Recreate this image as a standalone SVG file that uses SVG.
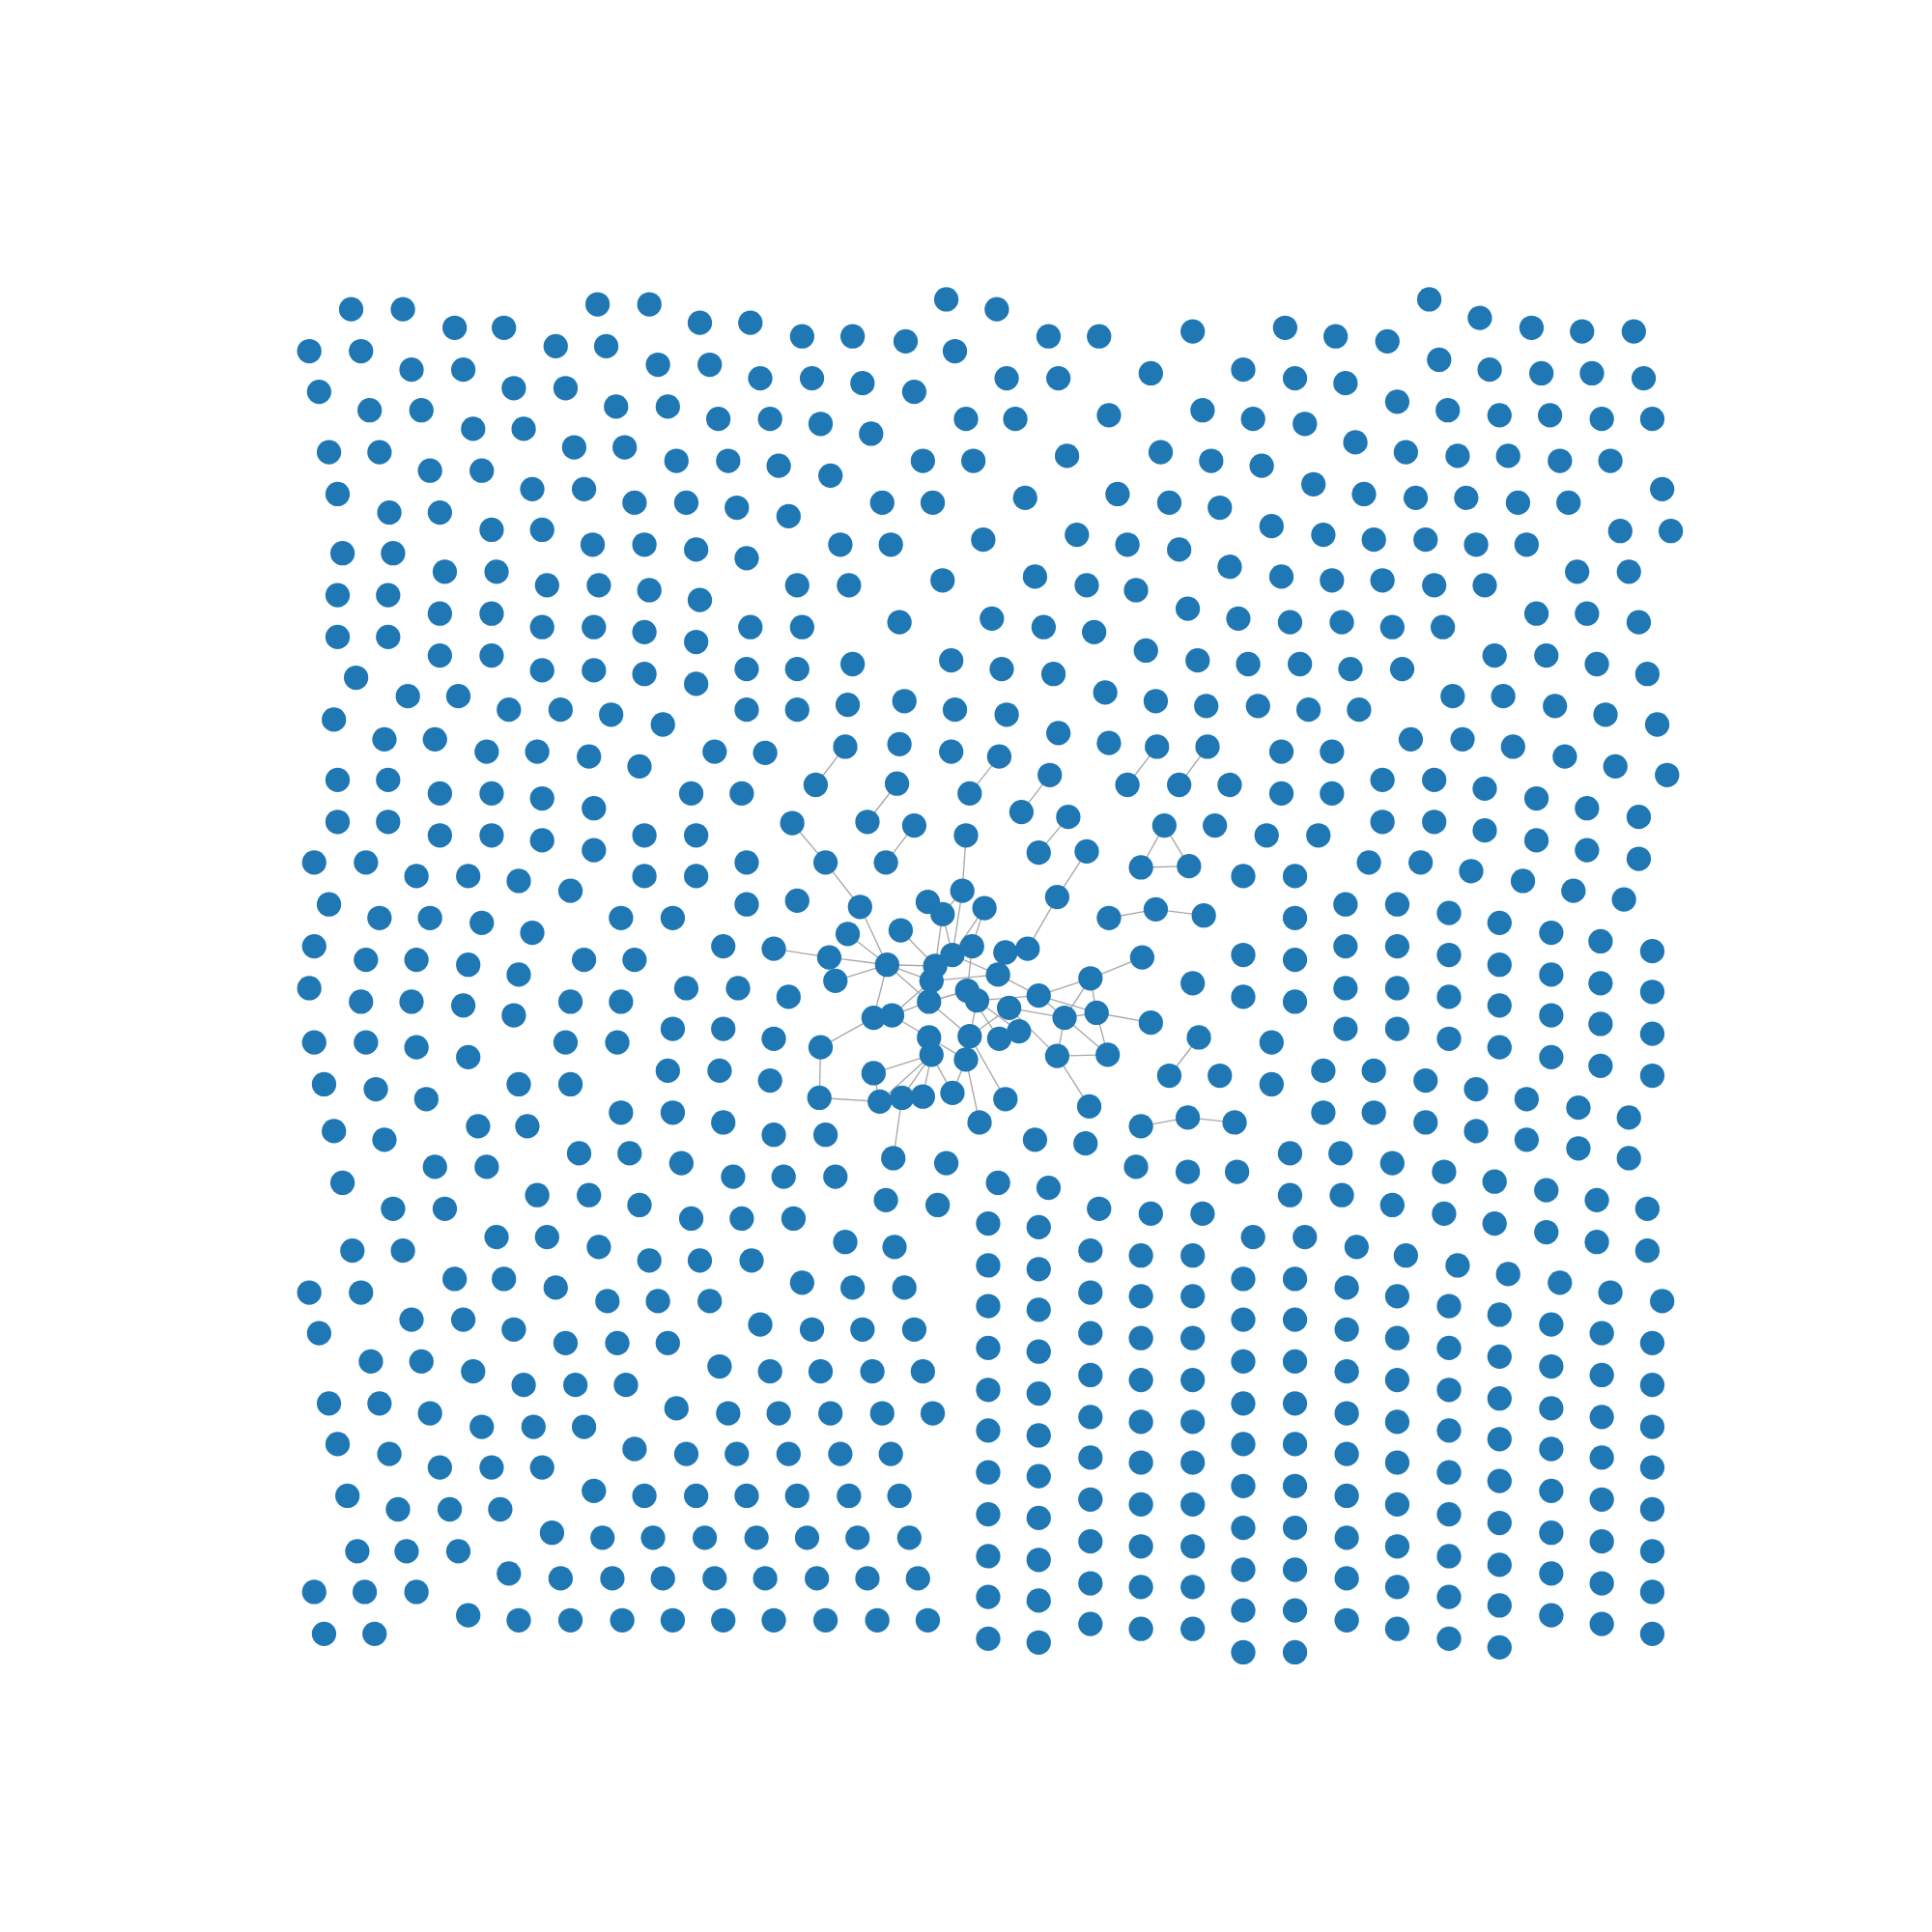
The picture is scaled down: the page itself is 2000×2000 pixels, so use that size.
<svg xmlns="http://www.w3.org/2000/svg" width="2000" height="2000" viewBox="0 0 2000 2000">
<style>
.e line{stroke:#a8a8a8;stroke-width:1.05;fill:none}
.n circle{fill:#1f77b4}
</style>
<rect width="2000" height="2000" fill="#ffffff"/>
<g transform="scale(1.27551)">
<g id="edges" class="e">
<line x1="686" y1="606" x2="662" y2="637"/>
<line x1="728" y1="636" x2="704" y2="667"/>
<line x1="643" y1="668" x2="670" y2="700"/>
<line x1="670" y1="700" x2="698" y2="736"/>
<line x1="698" y1="736" x2="720" y2="783"/>
<line x1="742" y1="670" x2="719" y2="700"/>
<line x1="811" y1="614" x2="787" y2="644"/>
<line x1="784" y1="678" x2="781" y2="723"/>
<line x1="852" y1="629" x2="829" y2="659"/>
<line x1="867" y1="663" x2="843" y2="692"/>
<line x1="882" y1="691" x2="858" y2="728"/>
<line x1="858" y1="728" x2="834" y2="770"/>
<line x1="939" y1="606" x2="915" y2="637"/>
<line x1="980" y1="606" x2="957" y2="637"/>
<line x1="945" y1="670" x2="926" y2="704"/>
<line x1="945" y1="670" x2="965" y2="703"/>
<line x1="926" y1="704" x2="965" y2="703"/>
<line x1="900" y1="745" x2="938" y2="738"/>
<line x1="938" y1="738" x2="977" y2="743"/>
<line x1="927" y1="777" x2="885" y2="794"/>
<line x1="973" y1="842" x2="949" y2="873"/>
<line x1="926" y1="914" x2="964" y2="907"/>
<line x1="964" y1="907" x2="1002" y2="911"/>
<line x1="628" y1="770" x2="673" y2="777"/>
<line x1="673" y1="777" x2="720" y2="783"/>
<line x1="688" y1="758" x2="720" y2="783"/>
<line x1="678" y1="796" x2="720" y2="783"/>
<line x1="720" y1="783" x2="759" y2="784"/>
<line x1="720" y1="783" x2="756" y2="796"/>
<line x1="720" y1="783" x2="754" y2="813"/>
<line x1="720" y1="783" x2="709" y2="826"/>
<line x1="666" y1="850" x2="709" y2="826"/>
<line x1="666" y1="850" x2="665" y2="891"/>
<line x1="665" y1="891" x2="714" y2="894"/>
<line x1="709" y1="871" x2="714" y2="894"/>
<line x1="709" y1="871" x2="756" y2="856"/>
<line x1="725" y1="940" x2="732" y2="891"/>
<line x1="756" y1="856" x2="714" y2="894"/>
<line x1="756" y1="856" x2="732" y2="891"/>
<line x1="756" y1="856" x2="749" y2="890"/>
<line x1="756" y1="856" x2="773" y2="887"/>
<line x1="754" y1="842" x2="724" y2="824"/>
<line x1="754" y1="842" x2="784" y2="860"/>
<line x1="724" y1="824" x2="754" y2="813"/>
<line x1="724" y1="824" x2="756" y2="796"/>
<line x1="784" y1="860" x2="773" y2="887"/>
<line x1="784" y1="860" x2="795" y2="911"/>
<line x1="787" y1="841" x2="816" y2="892"/>
<line x1="787" y1="841" x2="754" y2="813"/>
<line x1="787" y1="841" x2="819" y2="818"/>
<line x1="787" y1="841" x2="793" y2="812"/>
<line x1="811" y1="843" x2="785" y2="804"/>
<line x1="827" y1="837" x2="793" y2="812"/>
<line x1="754" y1="813" x2="773" y2="775"/>
<line x1="754" y1="813" x2="785" y2="804"/>
<line x1="756" y1="796" x2="810" y2="791"/>
<line x1="793" y1="812" x2="843" y2="808"/>
<line x1="810" y1="791" x2="843" y2="808"/>
<line x1="843" y1="808" x2="885" y2="794"/>
<line x1="843" y1="808" x2="864" y2="826"/>
<line x1="843" y1="808" x2="890" y2="822"/>
<line x1="864" y1="826" x2="885" y2="794"/>
<line x1="864" y1="826" x2="890" y2="822"/>
<line x1="885" y1="794" x2="890" y2="822"/>
<line x1="819" y1="818" x2="864" y2="826"/>
<line x1="819" y1="818" x2="858" y2="857"/>
<line x1="864" y1="826" x2="858" y2="857"/>
<line x1="864" y1="826" x2="899" y2="856"/>
<line x1="890" y1="822" x2="899" y2="856"/>
<line x1="890" y1="822" x2="934" y2="830"/>
<line x1="858" y1="857" x2="899" y2="856"/>
<line x1="858" y1="857" x2="884" y2="898"/>
<line x1="765" y1="742" x2="759" y2="784"/>
<line x1="765" y1="742" x2="773" y2="775"/>
<line x1="765" y1="742" x2="781" y2="723"/>
<line x1="781" y1="723" x2="773" y2="775"/>
<line x1="799" y1="737" x2="773" y2="775"/>
<line x1="799" y1="737" x2="789" y2="768"/>
<line x1="789" y1="768" x2="785" y2="804"/>
<line x1="773" y1="775" x2="810" y2="791"/>
<line x1="731" y1="755" x2="759" y2="784"/>
</g>
<g id="nodes" class="n">
<g id="n1"><circle cx="285" cy="251" r="9.9"/></g>
<g id="n2"><circle cx="327" cy="251" r="9.9"/></g>
<g id="n3"><circle cx="485" cy="247" r="9.9"/></g>
<g id="n4"><circle cx="527" cy="247" r="9.9"/></g>
<g id="n5"><circle cx="568" cy="262" r="9.9"/></g>
<g id="n6"><circle cx="609" cy="262" r="9.9"/></g>
<g id="n7"><circle cx="651" cy="273" r="9.9"/></g>
<g id="n8"><circle cx="692" cy="273" r="9.9"/></g>
<g id="n9"><circle cx="735" cy="277" r="9.9"/></g>
<g id="n10"><circle cx="768" cy="243" r="9.9"/></g>
<g id="n11"><circle cx="775" cy="285" r="9.9"/></g>
<g id="n12"><circle cx="369" cy="266" r="9.9"/></g>
<g id="n13"><circle cx="409" cy="266" r="9.9"/></g>
<g id="n14"><circle cx="451" cy="281" r="9.9"/></g>
<g id="n15"><circle cx="492" cy="281" r="9.9"/></g>
<g id="n16"><circle cx="251" cy="285" r="9.9"/></g>
<g id="n17"><circle cx="293" cy="285" r="9.9"/></g>
<g id="n18"><circle cx="534" cy="296" r="9.9"/></g>
<g id="n19"><circle cx="576" cy="296" r="9.9"/></g>
<g id="n20"><circle cx="334" cy="300" r="9.9"/></g>
<g id="n21"><circle cx="376" cy="300" r="9.9"/></g>
<g id="n22"><circle cx="617" cy="307" r="9.9"/></g>
<g id="n23"><circle cx="659" cy="307" r="9.9"/></g>
<g id="n24"><circle cx="700" cy="311" r="9.9"/></g>
<g id="n25"><circle cx="742" cy="318" r="9.9"/></g>
<g id="n26"><circle cx="417" cy="315" r="9.9"/></g>
<g id="n27"><circle cx="459" cy="315" r="9.9"/></g>
<g id="n28"><circle cx="259" cy="318" r="9.9"/></g>
<g id="n29"><circle cx="500" cy="330" r="9.9"/></g>
<g id="n30"><circle cx="542" cy="330" r="9.9"/></g>
<g id="n31"><circle cx="300" cy="333" r="9.9"/></g>
<g id="n32"><circle cx="342" cy="333" r="9.9"/></g>
<g id="n33"><circle cx="583" cy="340" r="9.9"/></g>
<g id="n34"><circle cx="625" cy="340" r="9.9"/></g>
<g id="n35"><circle cx="666" cy="344" r="9.9"/></g>
<g id="n36"><circle cx="707" cy="352" r="9.9"/></g>
<g id="n37"><circle cx="784" cy="340" r="9.9"/></g>
<g id="n38"><circle cx="384" cy="348" r="9.9"/></g>
<g id="n39"><circle cx="425" cy="348" r="9.9"/></g>
<g id="n40"><circle cx="466" cy="363" r="9.9"/></g>
<g id="n41"><circle cx="507" cy="363" r="9.9"/></g>
<g id="n42"><circle cx="267" cy="367" r="9.9"/></g>
<g id="n43"><circle cx="308" cy="367" r="9.9"/></g>
<g id="n44"><circle cx="549" cy="374" r="9.9"/></g>
<g id="n45"><circle cx="591" cy="374" r="9.9"/></g>
<g id="n46"><circle cx="632" cy="378" r="9.9"/></g>
<g id="n47"><circle cx="674" cy="386" r="9.9"/></g>
<g id="n48"><circle cx="749" cy="374" r="9.9"/></g>
<g id="n49"><circle cx="790" cy="374" r="9.9"/></g>
<g id="n50"><circle cx="349" cy="382" r="9.9"/></g>
<g id="n51"><circle cx="391" cy="382" r="9.9"/></g>
<g id="n52"><circle cx="432" cy="397" r="9.9"/></g>
<g id="n53"><circle cx="474" cy="397" r="9.9"/></g>
<g id="n54"><circle cx="274" cy="401" r="9.9"/></g>
<g id="n55"><circle cx="515" cy="408" r="9.9"/></g>
<g id="n56"><circle cx="557" cy="408" r="9.9"/></g>
<g id="n57"><circle cx="598" cy="412" r="9.9"/></g>
<g id="n58"><circle cx="640" cy="419" r="9.9"/></g>
<g id="n59"><circle cx="716" cy="408" r="9.9"/></g>
<g id="n60"><circle cx="757" cy="408" r="9.9"/></g>
<g id="n61"><circle cx="316" cy="416" r="9.9"/></g>
<g id="n62"><circle cx="357" cy="416" r="9.9"/></g>
<g id="n63"><circle cx="399" cy="430" r="9.9"/></g>
<g id="n64"><circle cx="440" cy="430" r="9.9"/></g>
<g id="n65"><circle cx="798" cy="438" r="9.9"/></g>
<g id="n66"><circle cx="481" cy="442" r="9.9"/></g>
<g id="n67"><circle cx="523" cy="442" r="9.9"/></g>
<g id="n68"><circle cx="565" cy="446" r="9.9"/></g>
<g id="n69"><circle cx="606" cy="453" r="9.9"/></g>
<g id="n70"><circle cx="682" cy="442" r="9.9"/></g>
<g id="n71"><circle cx="723" cy="442" r="9.9"/></g>
<g id="n72"><circle cx="278" cy="449" r="9.9"/></g>
<g id="n73"><circle cx="319" cy="449" r="9.9"/></g>
<g id="n74"><circle cx="361" cy="464" r="9.9"/></g>
<g id="n75"><circle cx="403" cy="464" r="9.9"/></g>
<g id="n76"><circle cx="444" cy="475" r="9.9"/></g>
<g id="n77"><circle cx="486" cy="475" r="9.9"/></g>
<g id="n78"><circle cx="527" cy="479" r="9.9"/></g>
<g id="n79"><circle cx="568" cy="487" r="9.9"/></g>
<g id="n80"><circle cx="647" cy="475" r="9.9"/></g>
<g id="n81"><circle cx="689" cy="475" r="9.9"/></g>
<g id="n82"><circle cx="765" cy="471" r="9.9"/></g>
<g id="n83"><circle cx="274" cy="483" r="9.9"/></g>
<g id="n84"><circle cx="315" cy="483" r="9.9"/></g>
<g id="n85"><circle cx="357" cy="498" r="9.9"/></g>
<g id="n86"><circle cx="399" cy="498" r="9.9"/></g>
<g id="n87"><circle cx="440" cy="509" r="9.9"/></g>
<g id="n88"><circle cx="482" cy="509" r="9.9"/></g>
<g id="n89"><circle cx="523" cy="513" r="9.9"/></g>
<g id="n90"><circle cx="565" cy="521" r="9.9"/></g>
<g id="n91"><circle cx="609" cy="509" r="9.9"/></g>
<g id="n92"><circle cx="651" cy="509" r="9.9"/></g>
<g id="n93"><circle cx="730" cy="505" r="9.9"/></g>
<g id="n94"><circle cx="805" cy="502" r="9.9"/></g>
<g id="n95"><circle cx="274" cy="517" r="9.9"/></g>
<g id="n96"><circle cx="315" cy="517" r="9.9"/></g>
<g id="n97"><circle cx="357" cy="532" r="9.9"/></g>
<g id="n98"><circle cx="399" cy="532" r="9.9"/></g>
<g id="n99"><circle cx="440" cy="544" r="9.9"/></g>
<g id="n100"><circle cx="482" cy="544" r="9.9"/></g>
<g id="n101"><circle cx="523" cy="547" r="9.9"/></g>
<g id="n102"><circle cx="565" cy="555" r="9.9"/></g>
<g id="n103"><circle cx="606" cy="543" r="9.9"/></g>
<g id="n104"><circle cx="647" cy="543" r="9.9"/></g>
<g id="n105"><circle cx="692" cy="539" r="9.9"/></g>
<g id="n106"><circle cx="772" cy="536" r="9.9"/></g>
<g id="n107"><circle cx="289" cy="550" r="9.9"/></g>
<g id="n108"><circle cx="331" cy="565" r="9.9"/></g>
<g id="n109"><circle cx="372" cy="565" r="9.9"/></g>
<g id="n110"><circle cx="413" cy="576" r="9.9"/></g>
<g id="n111"><circle cx="455" cy="576" r="9.9"/></g>
<g id="n112"><circle cx="496" cy="580" r="9.9"/></g>
<g id="n113"><circle cx="538" cy="588" r="9.9"/></g>
<g id="n114"><circle cx="606" cy="576" r="9.9"/></g>
<g id="n115"><circle cx="647" cy="576" r="9.9"/></g>
<g id="n116"><circle cx="688" cy="572" r="9.9"/></g>
<g id="n117"><circle cx="734" cy="569" r="9.9"/></g>
<g id="n118"><circle cx="775" cy="576" r="9.9"/></g>
<g id="n119"><circle cx="271" cy="584" r="9.9"/></g>
<g id="n120"><circle cx="809" cy="251" r="9.9"/></g>
<g id="n121"><circle cx="851" cy="273" r="9.9"/></g>
<g id="n122"><circle cx="892" cy="273" r="9.9"/></g>
<g id="n123"><circle cx="968" cy="269" r="9.9"/></g>
<g id="n124"><circle cx="1043" cy="266" r="9.9"/></g>
<g id="n125"><circle cx="1084" cy="273" r="9.9"/></g>
<g id="n126"><circle cx="1126" cy="277" r="9.9"/></g>
<g id="n127"><circle cx="1160" cy="243" r="9.9"/></g>
<g id="n128"><circle cx="1201" cy="258" r="9.9"/></g>
<g id="n129"><circle cx="1243" cy="266" r="9.9"/></g>
<g id="n130"><circle cx="1284" cy="269" r="9.9"/></g>
<g id="n131"><circle cx="1326" cy="269" r="9.9"/></g>
<g id="n132"><circle cx="817" cy="307" r="9.9"/></g>
<g id="n133"><circle cx="859" cy="307" r="9.9"/></g>
<g id="n134"><circle cx="934" cy="303" r="9.9"/></g>
<g id="n135"><circle cx="1009" cy="300" r="9.9"/></g>
<g id="n136"><circle cx="1051" cy="307" r="9.9"/></g>
<g id="n137"><circle cx="1092" cy="311" r="9.9"/></g>
<g id="n138"><circle cx="1168" cy="292" r="9.9"/></g>
<g id="n139"><circle cx="1209" cy="300" r="9.9"/></g>
<g id="n140"><circle cx="1251" cy="303" r="9.9"/></g>
<g id="n141"><circle cx="1292" cy="303" r="9.9"/></g>
<g id="n142"><circle cx="1334" cy="307" r="9.9"/></g>
<g id="n143"><circle cx="824" cy="340" r="9.9"/></g>
<g id="n144"><circle cx="900" cy="337" r="9.9"/></g>
<g id="n145"><circle cx="976" cy="333" r="9.9"/></g>
<g id="n146"><circle cx="1017" cy="340" r="9.9"/></g>
<g id="n147"><circle cx="1059" cy="344" r="9.9"/></g>
<g id="n148"><circle cx="1134" cy="326" r="9.9"/></g>
<g id="n149"><circle cx="1175" cy="333" r="9.9"/></g>
<g id="n150"><circle cx="1217" cy="337" r="9.9"/></g>
<g id="n151"><circle cx="1258" cy="337" r="9.9"/></g>
<g id="n152"><circle cx="1300" cy="340" r="9.9"/></g>
<g id="n153"><circle cx="1341" cy="340" r="9.9"/></g>
<g id="n154"><circle cx="866" cy="370" r="9.9"/></g>
<g id="n155"><circle cx="942" cy="367" r="9.9"/></g>
<g id="n156"><circle cx="983" cy="374" r="9.9"/></g>
<g id="n157"><circle cx="1024" cy="378" r="9.9"/></g>
<g id="n158"><circle cx="1100" cy="359" r="9.9"/></g>
<g id="n159"><circle cx="1141" cy="367" r="9.9"/></g>
<g id="n160"><circle cx="1183" cy="370" r="9.9"/></g>
<g id="n161"><circle cx="1224" cy="370" r="9.9"/></g>
<g id="n162"><circle cx="1266" cy="374" r="9.9"/></g>
<g id="n163"><circle cx="1307" cy="374" r="9.9"/></g>
<g id="n164"><circle cx="832" cy="404" r="9.9"/></g>
<g id="n165"><circle cx="907" cy="401" r="9.9"/></g>
<g id="n166"><circle cx="949" cy="408" r="9.9"/></g>
<g id="n167"><circle cx="990" cy="412" r="9.9"/></g>
<g id="n168"><circle cx="1066" cy="393" r="9.9"/></g>
<g id="n169"><circle cx="1107" cy="401" r="9.9"/></g>
<g id="n170"><circle cx="1149" cy="404" r="9.9"/></g>
<g id="n171"><circle cx="1190" cy="404" r="9.9"/></g>
<g id="n172"><circle cx="1232" cy="408" r="9.9"/></g>
<g id="n173"><circle cx="1273" cy="408" r="9.9"/></g>
<g id="n174"><circle cx="1349" cy="397" r="9.9"/></g>
<g id="n175"><circle cx="874" cy="434" r="9.9"/></g>
<g id="n176"><circle cx="915" cy="442" r="9.9"/></g>
<g id="n177"><circle cx="957" cy="446" r="9.9"/></g>
<g id="n178"><circle cx="1032" cy="427" r="9.9"/></g>
<g id="n179"><circle cx="1074" cy="434" r="9.9"/></g>
<g id="n180"><circle cx="1115" cy="438" r="9.9"/></g>
<g id="n181"><circle cx="1157" cy="438" r="9.9"/></g>
<g id="n182"><circle cx="1198" cy="442" r="9.9"/></g>
<g id="n183"><circle cx="1239" cy="442" r="9.9"/></g>
<g id="n184"><circle cx="1315" cy="431" r="9.9"/></g>
<g id="n185"><circle cx="1356" cy="431" r="9.9"/></g>
<g id="n186"><circle cx="840" cy="468" r="9.9"/></g>
<g id="n187"><circle cx="882" cy="475" r="9.9"/></g>
<g id="n188"><circle cx="922" cy="479" r="9.9"/></g>
<g id="n189"><circle cx="998" cy="460" r="9.9"/></g>
<g id="n190"><circle cx="1040" cy="468" r="9.9"/></g>
<g id="n191"><circle cx="1081" cy="471" r="9.9"/></g>
<g id="n192"><circle cx="1122" cy="471" r="9.9"/></g>
<g id="n193"><circle cx="1164" cy="475" r="9.9"/></g>
<g id="n194"><circle cx="1205" cy="475" r="9.9"/></g>
<g id="n195"><circle cx="1280" cy="464" r="9.9"/></g>
<g id="n196"><circle cx="1322" cy="464" r="9.9"/></g>
<g id="n197"><circle cx="847" cy="509" r="9.9"/></g>
<g id="n198"><circle cx="888" cy="513" r="9.9"/></g>
<g id="n199"><circle cx="964" cy="494" r="9.9"/></g>
<g id="n200"><circle cx="1005" cy="502" r="9.9"/></g>
<g id="n201"><circle cx="1047" cy="505" r="9.9"/></g>
<g id="n202"><circle cx="1089" cy="505" r="9.9"/></g>
<g id="n203"><circle cx="1130" cy="509" r="9.9"/></g>
<g id="n204"><circle cx="1171" cy="509" r="9.9"/></g>
<g id="n205"><circle cx="1247" cy="498" r="9.9"/></g>
<g id="n206"><circle cx="1288" cy="498" r="9.9"/></g>
<g id="n207"><circle cx="1330" cy="505" r="9.9"/></g>
<g id="n208"><circle cx="813" cy="543" r="9.9"/></g>
<g id="n209"><circle cx="855" cy="547" r="9.9"/></g>
<g id="n210"><circle cx="930" cy="528" r="9.9"/></g>
<g id="n211"><circle cx="972" cy="536" r="9.9"/></g>
<g id="n212"><circle cx="1013" cy="539" r="9.9"/></g>
<g id="n213"><circle cx="1055" cy="539" r="9.9"/></g>
<g id="n214"><circle cx="1096" cy="543" r="9.9"/></g>
<g id="n215"><circle cx="1138" cy="543" r="9.9"/></g>
<g id="n216"><circle cx="1213" cy="532" r="9.9"/></g>
<g id="n217"><circle cx="1255" cy="532" r="9.9"/></g>
<g id="n218"><circle cx="1296" cy="539" r="9.9"/></g>
<g id="n219"><circle cx="1337" cy="547" r="9.9"/></g>
<g id="n220"><circle cx="897" cy="562" r="9.9"/></g>
<g id="n221"><circle cx="1179" cy="565" r="9.9"/></g>
<g id="n222"><circle cx="1220" cy="565" r="9.9"/></g>
<g id="n223"><circle cx="1262" cy="573" r="9.9"/></g>
<g id="n224"><circle cx="1303" cy="580" r="9.9"/></g>
<g id="n225"><circle cx="1345" cy="588" r="9.9"/></g>
<g id="n226"><circle cx="817" cy="580" r="9.9"/></g>
<g id="n227"><circle cx="938" cy="569" r="9.9"/></g>
<g id="n228"><circle cx="979" cy="573" r="9.9"/></g>
<g id="n229"><circle cx="1021" cy="573" r="9.9"/></g>
<g id="n230"><circle cx="1062" cy="576" r="9.9"/></g>
<g id="n231"><circle cx="1103" cy="576" r="9.9"/></g>
<g id="n232"><circle cx="859" cy="595" r="9.9"/></g>
<g id="n233"><circle cx="312" cy="600" r="9.9"/></g>
<g id="n234"><circle cx="353" cy="600" r="9.9"/></g>
<g id="n235"><circle cx="395" cy="610" r="9.9"/></g>
<g id="n236"><circle cx="436" cy="610" r="9.9"/></g>
<g id="n237"><circle cx="478" cy="614" r="9.9"/></g>
<g id="n238"><circle cx="519" cy="622" r="9.9"/></g>
<g id="n239"><circle cx="580" cy="610" r="9.9"/></g>
<g id="n240"><circle cx="621" cy="611" r="9.9"/></g>
<g id="n241"><circle cx="274" cy="633" r="9.9"/></g>
<g id="n242"><circle cx="315" cy="633" r="9.9"/></g>
<g id="n243"><circle cx="357" cy="644" r="9.9"/></g>
<g id="n244"><circle cx="399" cy="644" r="9.9"/></g>
<g id="n245"><circle cx="440" cy="648" r="9.9"/></g>
<g id="n246"><circle cx="482" cy="656" r="9.9"/></g>
<g id="n247"><circle cx="561" cy="644" r="9.9"/></g>
<g id="n248"><circle cx="602" cy="644" r="9.9"/></g>
<g id="n249"><circle cx="274" cy="667" r="9.9"/></g>
<g id="n250"><circle cx="315" cy="667" r="9.9"/></g>
<g id="n251"><circle cx="357" cy="678" r="9.9"/></g>
<g id="n252"><circle cx="399" cy="678" r="9.9"/></g>
<g id="n253"><circle cx="440" cy="682" r="9.9"/></g>
<g id="n254"><circle cx="482" cy="690" r="9.9"/></g>
<g id="n255"><circle cx="523" cy="678" r="9.9"/></g>
<g id="n256"><circle cx="565" cy="678" r="9.9"/></g>
<g id="n257"><circle cx="255" cy="700" r="9.9"/></g>
<g id="n258"><circle cx="297" cy="700" r="9.9"/></g>
<g id="n259"><circle cx="338" cy="711" r="9.9"/></g>
<g id="n260"><circle cx="380" cy="711" r="9.9"/></g>
<g id="n261"><circle cx="421" cy="715" r="9.9"/></g>
<g id="n262"><circle cx="463" cy="723" r="9.9"/></g>
<g id="n263"><circle cx="523" cy="711" r="9.9"/></g>
<g id="n264"><circle cx="565" cy="711" r="9.9"/></g>
<g id="n265"><circle cx="606" cy="700" r="9.9"/></g>
<g id="n266"><circle cx="267" cy="734" r="9.9"/></g>
<g id="n267"><circle cx="308" cy="745" r="9.9"/></g>
<g id="n268"><circle cx="349" cy="745" r="9.9"/></g>
<g id="n269"><circle cx="391" cy="749" r="9.9"/></g>
<g id="n270"><circle cx="432" cy="757" r="9.9"/></g>
<g id="n271"><circle cx="504" cy="745" r="9.9"/></g>
<g id="n272"><circle cx="546" cy="745" r="9.9"/></g>
<g id="n273"><circle cx="606" cy="734" r="9.9"/></g>
<g id="n274"><circle cx="587" cy="768" r="9.9"/></g>
<g id="n275"><circle cx="255" cy="768" r="9.9"/></g>
<g id="n276"><circle cx="297" cy="779" r="9.9"/></g>
<g id="n277"><circle cx="338" cy="779" r="9.9"/></g>
<g id="n278"><circle cx="380" cy="783" r="9.9"/></g>
<g id="n279"><circle cx="421" cy="791" r="9.9"/></g>
<g id="n280"><circle cx="474" cy="779" r="9.9"/></g>
<g id="n281"><circle cx="515" cy="779" r="9.9"/></g>
<g id="n282"><circle cx="251" cy="802" r="9.9"/></g>
<g id="n283"><circle cx="293" cy="813" r="9.9"/></g>
<g id="n284"><circle cx="334" cy="813" r="9.9"/></g>
<g id="n285"><circle cx="376" cy="816" r="9.9"/></g>
<g id="n286"><circle cx="417" cy="824" r="9.9"/></g>
<g id="n287"><circle cx="463" cy="813" r="9.9"/></g>
<g id="n288"><circle cx="504" cy="813" r="9.9"/></g>
<g id="n289"><circle cx="557" cy="802" r="9.9"/></g>
<g id="n290"><circle cx="599" cy="802" r="9.9"/></g>
<g id="n291"><circle cx="640" cy="809" r="9.9"/></g>
<g id="n292"><circle cx="255" cy="846" r="9.9"/></g>
<g id="n293"><circle cx="297" cy="846" r="9.9"/></g>
<g id="n294"><circle cx="338" cy="850" r="9.9"/></g>
<g id="n295"><circle cx="380" cy="858" r="9.9"/></g>
<g id="n296"><circle cx="459" cy="846" r="9.9"/></g>
<g id="n297"><circle cx="501" cy="846" r="9.9"/></g>
<g id="n298"><circle cx="546" cy="835" r="9.9"/></g>
<g id="n299"><circle cx="587" cy="835" r="9.9"/></g>
<g id="n300"><circle cx="628" cy="843" r="9.9"/></g>
<g id="n301"><circle cx="263" cy="880" r="9.9"/></g>
<g id="n302"><circle cx="305" cy="884" r="9.9"/></g>
<g id="n303"><circle cx="346" cy="892" r="9.9"/></g>
<g id="n304"><circle cx="421" cy="880" r="9.9"/></g>
<g id="n305"><circle cx="463" cy="880" r="9.9"/></g>
<g id="n306"><circle cx="542" cy="869" r="9.9"/></g>
<g id="n307"><circle cx="584" cy="869" r="9.9"/></g>
<g id="n308"><circle cx="625" cy="877" r="9.9"/></g>
<g id="n309"><circle cx="271" cy="918" r="9.9"/></g>
<g id="n310"><circle cx="312" cy="925" r="9.9"/></g>
<g id="n311"><circle cx="388" cy="914" r="9.9"/></g>
<g id="n312"><circle cx="428" cy="914" r="9.9"/></g>
<g id="n313"><circle cx="504" cy="903" r="9.9"/></g>
<g id="n314"><circle cx="546" cy="903" r="9.9"/></g>
<g id="n315"><circle cx="587" cy="911" r="9.9"/></g>
<g id="n316"><circle cx="628" cy="921" r="9.9"/></g>
<g id="n317"><circle cx="670" cy="921" r="9.9"/></g>
<g id="n318"><circle cx="278" cy="960" r="9.9"/></g>
<g id="n319"><circle cx="353" cy="947" r="9.9"/></g>
<g id="n320"><circle cx="395" cy="947" r="9.9"/></g>
<g id="n321"><circle cx="470" cy="936" r="9.9"/></g>
<g id="n322"><circle cx="511" cy="936" r="9.9"/></g>
<g id="n323"><circle cx="553" cy="944" r="9.9"/></g>
<g id="n324"><circle cx="595" cy="955" r="9.9"/></g>
<g id="n325"><circle cx="636" cy="955" r="9.9"/></g>
<g id="n326"><circle cx="678" cy="955" r="9.9"/></g>
<g id="n327"><circle cx="686" cy="606" r="9.9"/></g>
<g id="n328"><circle cx="730" cy="604" r="9.9"/></g>
<g id="n329"><circle cx="772" cy="610" r="9.9"/></g>
<g id="n330"><circle cx="811" cy="614" r="9.9"/></g>
<g id="n331"><circle cx="662" cy="637" r="9.9"/></g>
<g id="n332"><circle cx="728" cy="636" r="9.9"/></g>
<g id="n333"><circle cx="787" cy="644" r="9.9"/></g>
<g id="n334"><circle cx="643" cy="668" r="9.9"/></g>
<g id="n335"><circle cx="704" cy="667" r="9.9"/></g>
<g id="n336"><circle cx="742" cy="670" r="9.9"/></g>
<g id="n337"><circle cx="784" cy="678" r="9.9"/></g>
<g id="n338"><circle cx="670" cy="700" r="9.9"/></g>
<g id="n339"><circle cx="719" cy="700" r="9.9"/></g>
<g id="n340"><circle cx="781" cy="723" r="9.9"/></g>
<g id="n341"><circle cx="698" cy="736" r="9.9"/></g>
<g id="n342"><circle cx="647" cy="731" r="9.9"/></g>
<g id="n343"><circle cx="753" cy="732" r="9.9"/></g>
<g id="n344"><circle cx="765" cy="742" r="9.9"/></g>
<g id="n345"><circle cx="799" cy="737" r="9.9"/></g>
<g id="n346"><circle cx="688" cy="758" r="9.9"/></g>
<g id="n347"><circle cx="731" cy="755" r="9.9"/></g>
<g id="n348"><circle cx="628" cy="770" r="9.9"/></g>
<g id="n349"><circle cx="673" cy="777" r="9.9"/></g>
<g id="n350"><circle cx="720" cy="783" r="9.9"/></g>
<g id="n351"><circle cx="759" cy="784" r="9.9"/></g>
<g id="n352"><circle cx="773" cy="775" r="9.9"/></g>
<g id="n353"><circle cx="789" cy="768" r="9.9"/></g>
<g id="n354"><circle cx="816" cy="773" r="9.9"/></g>
<g id="n355"><circle cx="834" cy="770" r="9.9"/></g>
<g id="n356"><circle cx="678" cy="796" r="9.9"/></g>
<g id="n357"><circle cx="756" cy="796" r="9.9"/></g>
<g id="n358"><circle cx="785" cy="804" r="9.9"/></g>
<g id="n359"><circle cx="793" cy="812" r="9.9"/></g>
<g id="n360"><circle cx="810" cy="791" r="9.9"/></g>
<g id="n361"><circle cx="754" cy="813" r="9.9"/></g>
<g id="n362"><circle cx="819" cy="818" r="9.9"/></g>
<g id="n363"><circle cx="843" cy="808" r="9.9"/></g>
<g id="n364"><circle cx="885" cy="794" r="9.9"/></g>
<g id="n365"><circle cx="864" cy="826" r="9.9"/></g>
<g id="n366"><circle cx="890" cy="822" r="9.9"/></g>
<g id="n367"><circle cx="709" cy="826" r="9.9"/></g>
<g id="n368"><circle cx="724" cy="824" r="9.9"/></g>
<g id="n369"><circle cx="666" cy="850" r="9.9"/></g>
<g id="n370"><circle cx="754" cy="842" r="9.9"/></g>
<g id="n371"><circle cx="756" cy="856" r="9.9"/></g>
<g id="n372"><circle cx="787" cy="841" r="9.9"/></g>
<g id="n373"><circle cx="784" cy="860" r="9.9"/></g>
<g id="n374"><circle cx="811" cy="843" r="9.9"/></g>
<g id="n375"><circle cx="827" cy="837" r="9.9"/></g>
<g id="n376"><circle cx="858" cy="857" r="9.9"/></g>
<g id="n377"><circle cx="899" cy="856" r="9.9"/></g>
<g id="n378"><circle cx="709" cy="871" r="9.9"/></g>
<g id="n379"><circle cx="665" cy="891" r="9.9"/></g>
<g id="n380"><circle cx="714" cy="894" r="9.9"/></g>
<g id="n381"><circle cx="732" cy="891" r="9.9"/></g>
<g id="n382"><circle cx="749" cy="890" r="9.9"/></g>
<g id="n383"><circle cx="773" cy="887" r="9.9"/></g>
<g id="n384"><circle cx="816" cy="892" r="9.9"/></g>
<g id="n385"><circle cx="795" cy="911" r="9.9"/></g>
<g id="n386"><circle cx="884" cy="898" r="9.9"/></g>
<g id="n387"><circle cx="725" cy="940" r="9.9"/></g>
<g id="n388"><circle cx="768" cy="944" r="9.9"/></g>
<g id="n389"><circle cx="900" cy="603" r="9.9"/></g>
<g id="n390"><circle cx="939" cy="606" r="9.9"/></g>
<g id="n391"><circle cx="980" cy="606" r="9.9"/></g>
<g id="n392"><circle cx="852" cy="629" r="9.9"/></g>
<g id="n393"><circle cx="915" cy="637" r="9.9"/></g>
<g id="n394"><circle cx="957" cy="637" r="9.9"/></g>
<g id="n395"><circle cx="998" cy="637" r="9.9"/></g>
<g id="n396"><circle cx="829" cy="659" r="9.9"/></g>
<g id="n397"><circle cx="867" cy="663" r="9.9"/></g>
<g id="n398"><circle cx="945" cy="670" r="9.9"/></g>
<g id="n399"><circle cx="986" cy="670" r="9.9"/></g>
<g id="n400"><circle cx="843" cy="692" r="9.9"/></g>
<g id="n401"><circle cx="882" cy="691" r="9.9"/></g>
<g id="n402"><circle cx="926" cy="704" r="9.9"/></g>
<g id="n403"><circle cx="965" cy="703" r="9.9"/></g>
<g id="n404"><circle cx="858" cy="728" r="9.9"/></g>
<g id="n405"><circle cx="900" cy="745" r="9.9"/></g>
<g id="n406"><circle cx="938" cy="738" r="9.9"/></g>
<g id="n407"><circle cx="977" cy="743" r="9.9"/></g>
<g id="n408"><circle cx="927" cy="777" r="9.9"/></g>
<g id="n409"><circle cx="934" cy="830" r="9.9"/></g>
<g id="n410"><circle cx="968" cy="798" r="9.9"/></g>
<g id="n411"><circle cx="973" cy="842" r="9.9"/></g>
<g id="n412"><circle cx="949" cy="873" r="9.9"/></g>
<g id="n413"><circle cx="990" cy="873" r="9.9"/></g>
<g id="n414"><circle cx="926" cy="914" r="9.9"/></g>
<g id="n415"><circle cx="964" cy="907" r="9.9"/></g>
<g id="n416"><circle cx="1002" cy="911" r="9.9"/></g>
<g id="n417"><circle cx="840" cy="925" r="9.9"/></g>
<g id="n418"><circle cx="881" cy="928" r="9.9"/></g>
<g id="n419"><circle cx="922" cy="947" r="9.9"/></g>
<g id="n420"><circle cx="964" cy="951" r="9.9"/></g>
<g id="n421"><circle cx="1004" cy="951" r="9.9"/></g>
<g id="n422"><circle cx="810" cy="960" r="9.9"/></g>
<g id="n423"><circle cx="851" cy="964" r="9.9"/></g>
<g id="n424"><circle cx="1040" cy="610" r="9.9"/></g>
<g id="n425"><circle cx="1081" cy="610" r="9.9"/></g>
<g id="n426"><circle cx="1145" cy="600" r="9.9"/></g>
<g id="n427"><circle cx="1187" cy="600" r="9.9"/></g>
<g id="n428"><circle cx="1228" cy="606" r="9.9"/></g>
<g id="n429"><circle cx="1270" cy="614" r="9.9"/></g>
<g id="n430"><circle cx="1311" cy="622" r="9.9"/></g>
<g id="n431"><circle cx="1353" cy="629" r="9.9"/></g>
<g id="n432"><circle cx="1040" cy="644" r="9.9"/></g>
<g id="n433"><circle cx="1081" cy="644" r="9.9"/></g>
<g id="n434"><circle cx="1122" cy="633" r="9.9"/></g>
<g id="n435"><circle cx="1164" cy="633" r="9.9"/></g>
<g id="n436"><circle cx="1205" cy="640" r="9.9"/></g>
<g id="n437"><circle cx="1247" cy="648" r="9.9"/></g>
<g id="n438"><circle cx="1288" cy="656" r="9.9"/></g>
<g id="n439"><circle cx="1330" cy="663" r="9.9"/></g>
<g id="n440"><circle cx="1028" cy="678" r="9.9"/></g>
<g id="n441"><circle cx="1070" cy="678" r="9.9"/></g>
<g id="n442"><circle cx="1122" cy="667" r="9.9"/></g>
<g id="n443"><circle cx="1164" cy="667" r="9.9"/></g>
<g id="n444"><circle cx="1205" cy="674" r="9.9"/></g>
<g id="n445"><circle cx="1247" cy="682" r="9.9"/></g>
<g id="n446"><circle cx="1288" cy="690" r="9.9"/></g>
<g id="n447"><circle cx="1330" cy="697" r="9.9"/></g>
<g id="n448"><circle cx="1009" cy="711" r="9.9"/></g>
<g id="n449"><circle cx="1051" cy="711" r="9.9"/></g>
<g id="n450"><circle cx="1111" cy="700" r="9.9"/></g>
<g id="n451"><circle cx="1153" cy="700" r="9.9"/></g>
<g id="n452"><circle cx="1194" cy="707" r="9.9"/></g>
<g id="n453"><circle cx="1236" cy="715" r="9.9"/></g>
<g id="n454"><circle cx="1277" cy="723" r="9.9"/></g>
<g id="n455"><circle cx="1318" cy="730" r="9.9"/></g>
<g id="n456"><circle cx="1051" cy="745" r="9.9"/></g>
<g id="n457"><circle cx="1092" cy="734" r="9.9"/></g>
<g id="n458"><circle cx="1134" cy="734" r="9.9"/></g>
<g id="n459"><circle cx="1176" cy="741" r="9.9"/></g>
<g id="n460"><circle cx="1217" cy="749" r="9.9"/></g>
<g id="n461"><circle cx="1259" cy="757" r="9.9"/></g>
<g id="n462"><circle cx="1299" cy="764" r="9.9"/></g>
<g id="n463"><circle cx="1341" cy="772" r="9.9"/></g>
<g id="n464"><circle cx="1009" cy="775" r="9.9"/></g>
<g id="n465"><circle cx="1051" cy="779" r="9.9"/></g>
<g id="n466"><circle cx="1092" cy="768" r="9.9"/></g>
<g id="n467"><circle cx="1134" cy="768" r="9.9"/></g>
<g id="n468"><circle cx="1176" cy="775" r="9.9"/></g>
<g id="n469"><circle cx="1217" cy="783" r="9.9"/></g>
<g id="n470"><circle cx="1259" cy="791" r="9.9"/></g>
<g id="n471"><circle cx="1299" cy="798" r="9.9"/></g>
<g id="n472"><circle cx="1341" cy="805" r="9.9"/></g>
<g id="n473"><circle cx="1009" cy="809" r="9.9"/></g>
<g id="n474"><circle cx="1051" cy="813" r="9.9"/></g>
<g id="n475"><circle cx="1092" cy="802" r="9.9"/></g>
<g id="n476"><circle cx="1134" cy="802" r="9.9"/></g>
<g id="n477"><circle cx="1176" cy="809" r="9.9"/></g>
<g id="n478"><circle cx="1217" cy="816" r="9.9"/></g>
<g id="n479"><circle cx="1259" cy="824" r="9.9"/></g>
<g id="n480"><circle cx="1299" cy="831" r="9.9"/></g>
<g id="n481"><circle cx="1341" cy="839" r="9.9"/></g>
<g id="n482"><circle cx="1092" cy="835" r="9.9"/></g>
<g id="n483"><circle cx="1134" cy="835" r="9.9"/></g>
<g id="n484"><circle cx="1176" cy="843" r="9.9"/></g>
<g id="n485"><circle cx="1217" cy="850" r="9.9"/></g>
<g id="n486"><circle cx="1259" cy="858" r="9.9"/></g>
<g id="n487"><circle cx="1299" cy="865" r="9.9"/></g>
<g id="n488"><circle cx="1341" cy="873" r="9.9"/></g>
<g id="n489"><circle cx="1032" cy="846" r="9.9"/></g>
<g id="n490"><circle cx="1032" cy="880" r="9.9"/></g>
<g id="n491"><circle cx="1074" cy="869" r="9.9"/></g>
<g id="n492"><circle cx="1115" cy="869" r="9.9"/></g>
<g id="n493"><circle cx="1157" cy="877" r="9.9"/></g>
<g id="n494"><circle cx="1198" cy="884" r="9.9"/></g>
<g id="n495"><circle cx="1239" cy="892" r="9.9"/></g>
<g id="n496"><circle cx="1281" cy="899" r="9.9"/></g>
<g id="n497"><circle cx="1322" cy="907" r="9.9"/></g>
<g id="n498"><circle cx="1074" cy="903" r="9.9"/></g>
<g id="n499"><circle cx="1115" cy="903" r="9.9"/></g>
<g id="n500"><circle cx="1157" cy="911" r="9.9"/></g>
<g id="n501"><circle cx="1198" cy="918" r="9.9"/></g>
<g id="n502"><circle cx="1239" cy="925" r="9.9"/></g>
<g id="n503"><circle cx="1281" cy="932" r="9.9"/></g>
<g id="n504"><circle cx="1322" cy="940" r="9.9"/></g>
<g id="n505"><circle cx="1047" cy="936" r="9.9"/></g>
<g id="n506"><circle cx="1088" cy="936" r="9.9"/></g>
<g id="n507"><circle cx="1130" cy="944" r="9.9"/></g>
<g id="n508"><circle cx="1172" cy="951" r="9.9"/></g>
<g id="n509"><circle cx="1213" cy="959" r="9.9"/></g>
<g id="n510"><circle cx="1255" cy="966" r="9.9"/></g>
<g id="n511"><circle cx="1296" cy="974" r="9.9"/></g>
<g id="n512"><circle cx="1337" cy="981" r="9.9"/></g>
<g id="n513"><circle cx="1047" cy="970" r="9.9"/></g>
<g id="n514"><circle cx="1089" cy="970" r="9.9"/></g>
<g id="n515"><circle cx="1130" cy="978" r="9.9"/></g>
<g id="n516"><circle cx="1172" cy="985" r="9.9"/></g>
<g id="n517"><circle cx="1213" cy="993" r="9.9"/></g>
<g id="n518"><circle cx="1255" cy="1000" r="9.9"/></g>
<g id="n519"><circle cx="1296" cy="1008" r="9.9"/></g>
<g id="n520"><circle cx="1337" cy="1015" r="9.9"/></g>
<g id="n521"><circle cx="1017" cy="1004" r="9.9"/></g>
<g id="n522"><circle cx="1059" cy="1004" r="9.9"/></g>
<g id="n523"><circle cx="1101" cy="1012" r="9.9"/></g>
<g id="n524"><circle cx="1141" cy="1019" r="9.9"/></g>
<g id="n525"><circle cx="1183" cy="1027" r="9.9"/></g>
<g id="n526"><circle cx="1224" cy="1034" r="9.9"/></g>
<g id="n527"><circle cx="1266" cy="1041" r="9.9"/></g>
<g id="n528"><circle cx="1307" cy="1049" r="9.9"/></g>
<g id="n529"><circle cx="1349" cy="1056" r="9.9"/></g>
<g id="n530"><circle cx="802" cy="993" r="9.9"/></g>
<g id="n531"><circle cx="802" cy="1027" r="9.9"/></g>
<g id="n532"><circle cx="802" cy="1060" r="9.9"/></g>
<g id="n533"><circle cx="802" cy="1094" r="9.9"/></g>
<g id="n534"><circle cx="802" cy="1128" r="9.9"/></g>
<g id="n535"><circle cx="802" cy="1161" r="9.9"/></g>
<g id="n536"><circle cx="802" cy="1195" r="9.9"/></g>
<g id="n537"><circle cx="802" cy="1229" r="9.9"/></g>
<g id="n538"><circle cx="802" cy="1263" r="9.9"/></g>
<g id="n539"><circle cx="802" cy="1296" r="9.9"/></g>
<g id="n540"><circle cx="802" cy="1330" r="9.9"/></g>
<g id="n541"><circle cx="843" cy="996" r="9.9"/></g>
<g id="n542"><circle cx="843" cy="1030" r="9.9"/></g>
<g id="n543"><circle cx="843" cy="1063" r="9.9"/></g>
<g id="n544"><circle cx="843" cy="1097" r="9.9"/></g>
<g id="n545"><circle cx="843" cy="1131" r="9.9"/></g>
<g id="n546"><circle cx="843" cy="1165" r="9.9"/></g>
<g id="n547"><circle cx="843" cy="1198" r="9.9"/></g>
<g id="n548"><circle cx="843" cy="1232" r="9.9"/></g>
<g id="n549"><circle cx="843" cy="1266" r="9.9"/></g>
<g id="n550"><circle cx="843" cy="1299" r="9.9"/></g>
<g id="n551"><circle cx="843" cy="1333" r="9.9"/></g>
<g id="n552"><circle cx="892" cy="981" r="9.9"/></g>
<g id="n553"><circle cx="885" cy="1015" r="9.9"/></g>
<g id="n554"><circle cx="885" cy="1049" r="9.9"/></g>
<g id="n555"><circle cx="885" cy="1082" r="9.9"/></g>
<g id="n556"><circle cx="885" cy="1116" r="9.9"/></g>
<g id="n557"><circle cx="885" cy="1150" r="9.9"/></g>
<g id="n558"><circle cx="885" cy="1183" r="9.9"/></g>
<g id="n559"><circle cx="885" cy="1217" r="9.9"/></g>
<g id="n560"><circle cx="885" cy="1251" r="9.9"/></g>
<g id="n561"><circle cx="885" cy="1285" r="9.9"/></g>
<g id="n562"><circle cx="885" cy="1318" r="9.9"/></g>
<g id="n563"><circle cx="934" cy="985" r="9.9"/></g>
<g id="n564"><circle cx="926" cy="1019" r="9.9"/></g>
<g id="n565"><circle cx="926" cy="1052" r="9.9"/></g>
<g id="n566"><circle cx="926" cy="1086" r="9.9"/></g>
<g id="n567"><circle cx="926" cy="1120" r="9.9"/></g>
<g id="n568"><circle cx="926" cy="1154" r="9.9"/></g>
<g id="n569"><circle cx="926" cy="1187" r="9.9"/></g>
<g id="n570"><circle cx="926" cy="1221" r="9.9"/></g>
<g id="n571"><circle cx="926" cy="1255" r="9.9"/></g>
<g id="n572"><circle cx="926" cy="1288" r="9.9"/></g>
<g id="n573"><circle cx="926" cy="1322" r="9.9"/></g>
<g id="n574"><circle cx="976" cy="985" r="9.9"/></g>
<g id="n575"><circle cx="968" cy="1019" r="9.9"/></g>
<g id="n576"><circle cx="968" cy="1052" r="9.9"/></g>
<g id="n577"><circle cx="968" cy="1086" r="9.9"/></g>
<g id="n578"><circle cx="968" cy="1120" r="9.9"/></g>
<g id="n579"><circle cx="968" cy="1154" r="9.9"/></g>
<g id="n580"><circle cx="968" cy="1187" r="9.9"/></g>
<g id="n581"><circle cx="968" cy="1221" r="9.9"/></g>
<g id="n582"><circle cx="968" cy="1255" r="9.9"/></g>
<g id="n583"><circle cx="968" cy="1288" r="9.9"/></g>
<g id="n584"><circle cx="968" cy="1322" r="9.9"/></g>
<g id="n585"><circle cx="1009" cy="1038" r="9.9"/></g>
<g id="n586"><circle cx="1009" cy="1071" r="9.9"/></g>
<g id="n587"><circle cx="1009" cy="1105" r="9.9"/></g>
<g id="n588"><circle cx="1009" cy="1139" r="9.9"/></g>
<g id="n589"><circle cx="1009" cy="1172" r="9.9"/></g>
<g id="n590"><circle cx="1009" cy="1206" r="9.9"/></g>
<g id="n591"><circle cx="1009" cy="1240" r="9.9"/></g>
<g id="n592"><circle cx="1009" cy="1274" r="9.9"/></g>
<g id="n593"><circle cx="1009" cy="1307" r="9.9"/></g>
<g id="n594"><circle cx="1009" cy="1341" r="9.9"/></g>
<g id="n595"><circle cx="1051" cy="1038" r="9.9"/></g>
<g id="n596"><circle cx="1051" cy="1071" r="9.9"/></g>
<g id="n597"><circle cx="1051" cy="1105" r="9.9"/></g>
<g id="n598"><circle cx="1051" cy="1139" r="9.9"/></g>
<g id="n599"><circle cx="1051" cy="1172" r="9.9"/></g>
<g id="n600"><circle cx="1051" cy="1206" r="9.9"/></g>
<g id="n601"><circle cx="1051" cy="1240" r="9.9"/></g>
<g id="n602"><circle cx="1051" cy="1274" r="9.9"/></g>
<g id="n603"><circle cx="1051" cy="1307" r="9.9"/></g>
<g id="n604"><circle cx="1051" cy="1341" r="9.9"/></g>
<g id="n605"><circle cx="1093" cy="1045" r="9.9"/></g>
<g id="n606"><circle cx="1093" cy="1079" r="9.9"/></g>
<g id="n607"><circle cx="1093" cy="1113" r="9.9"/></g>
<g id="n608"><circle cx="1093" cy="1147" r="9.9"/></g>
<g id="n609"><circle cx="1093" cy="1180" r="9.9"/></g>
<g id="n610"><circle cx="1093" cy="1214" r="9.9"/></g>
<g id="n611"><circle cx="1093" cy="1248" r="9.9"/></g>
<g id="n612"><circle cx="1093" cy="1281" r="9.9"/></g>
<g id="n613"><circle cx="1093" cy="1315" r="9.9"/></g>
<g id="n614"><circle cx="1134" cy="1052" r="9.9"/></g>
<g id="n615"><circle cx="1134" cy="1086" r="9.9"/></g>
<g id="n616"><circle cx="1134" cy="1120" r="9.9"/></g>
<g id="n617"><circle cx="1134" cy="1154" r="9.9"/></g>
<g id="n618"><circle cx="1134" cy="1187" r="9.9"/></g>
<g id="n619"><circle cx="1134" cy="1221" r="9.9"/></g>
<g id="n620"><circle cx="1134" cy="1255" r="9.9"/></g>
<g id="n621"><circle cx="1134" cy="1288" r="9.9"/></g>
<g id="n622"><circle cx="1134" cy="1322" r="9.9"/></g>
<g id="n623"><circle cx="1176" cy="1060" r="9.9"/></g>
<g id="n624"><circle cx="1176" cy="1094" r="9.9"/></g>
<g id="n625"><circle cx="1176" cy="1128" r="9.9"/></g>
<g id="n626"><circle cx="1176" cy="1161" r="9.9"/></g>
<g id="n627"><circle cx="1176" cy="1195" r="9.9"/></g>
<g id="n628"><circle cx="1176" cy="1229" r="9.9"/></g>
<g id="n629"><circle cx="1176" cy="1263" r="9.9"/></g>
<g id="n630"><circle cx="1176" cy="1296" r="9.9"/></g>
<g id="n631"><circle cx="1176" cy="1330" r="9.9"/></g>
<g id="n632"><circle cx="1217" cy="1067" r="9.9"/></g>
<g id="n633"><circle cx="1217" cy="1101" r="9.9"/></g>
<g id="n634"><circle cx="1217" cy="1135" r="9.9"/></g>
<g id="n635"><circle cx="1217" cy="1168" r="9.9"/></g>
<g id="n636"><circle cx="1217" cy="1202" r="9.9"/></g>
<g id="n637"><circle cx="1217" cy="1236" r="9.9"/></g>
<g id="n638"><circle cx="1217" cy="1270" r="9.9"/></g>
<g id="n639"><circle cx="1217" cy="1303" r="9.9"/></g>
<g id="n640"><circle cx="1217" cy="1337" r="9.9"/></g>
<g id="n641"><circle cx="1259" cy="1075" r="9.9"/></g>
<g id="n642"><circle cx="1259" cy="1109" r="9.9"/></g>
<g id="n643"><circle cx="1259" cy="1143" r="9.9"/></g>
<g id="n644"><circle cx="1259" cy="1176" r="9.9"/></g>
<g id="n645"><circle cx="1259" cy="1210" r="9.9"/></g>
<g id="n646"><circle cx="1259" cy="1244" r="9.9"/></g>
<g id="n647"><circle cx="1259" cy="1277" r="9.9"/></g>
<g id="n648"><circle cx="1259" cy="1311" r="9.9"/></g>
<g id="n649"><circle cx="1300" cy="1082" r="9.9"/></g>
<g id="n650"><circle cx="1300" cy="1116" r="9.9"/></g>
<g id="n651"><circle cx="1300" cy="1150" r="9.9"/></g>
<g id="n652"><circle cx="1300" cy="1183" r="9.9"/></g>
<g id="n653"><circle cx="1300" cy="1217" r="9.9"/></g>
<g id="n654"><circle cx="1300" cy="1251" r="9.9"/></g>
<g id="n655"><circle cx="1300" cy="1285" r="9.9"/></g>
<g id="n656"><circle cx="1300" cy="1318" r="9.9"/></g>
<g id="n657"><circle cx="1341" cy="1090" r="9.9"/></g>
<g id="n658"><circle cx="1341" cy="1124" r="9.9"/></g>
<g id="n659"><circle cx="1341" cy="1158" r="9.9"/></g>
<g id="n660"><circle cx="1341" cy="1191" r="9.9"/></g>
<g id="n661"><circle cx="1341" cy="1225" r="9.9"/></g>
<g id="n662"><circle cx="1341" cy="1259" r="9.9"/></g>
<g id="n663"><circle cx="1341" cy="1292" r="9.9"/></g>
<g id="n664"><circle cx="1341" cy="1326" r="9.9"/></g>
<g id="n665"><circle cx="319" cy="981" r="9.9"/></g>
<g id="n666"><circle cx="361" cy="981" r="9.9"/></g>
<g id="n667"><circle cx="436" cy="970" r="9.9"/></g>
<g id="n668"><circle cx="478" cy="970" r="9.9"/></g>
<g id="n669"><circle cx="519" cy="978" r="9.9"/></g>
<g id="n670"><circle cx="561" cy="989" r="9.9"/></g>
<g id="n671"><circle cx="602" cy="989" r="9.9"/></g>
<g id="n672"><circle cx="644" cy="989" r="9.9"/></g>
<g id="n673"><circle cx="719" cy="974" r="9.9"/></g>
<g id="n674"><circle cx="761" cy="978" r="9.9"/></g>
<g id="n675"><circle cx="286" cy="1015" r="9.9"/></g>
<g id="n676"><circle cx="327" cy="1015" r="9.9"/></g>
<g id="n677"><circle cx="403" cy="1004" r="9.9"/></g>
<g id="n678"><circle cx="444" cy="1004" r="9.9"/></g>
<g id="n679"><circle cx="486" cy="1012" r="9.9"/></g>
<g id="n680"><circle cx="527" cy="1023" r="9.9"/></g>
<g id="n681"><circle cx="568" cy="1023" r="9.9"/></g>
<g id="n682"><circle cx="610" cy="1023" r="9.9"/></g>
<g id="n683"><circle cx="686" cy="1008" r="9.9"/></g>
<g id="n684"><circle cx="726" cy="1012" r="9.9"/></g>
<g id="n685"><circle cx="251" cy="1049" r="9.9"/></g>
<g id="n686"><circle cx="293" cy="1049" r="9.9"/></g>
<g id="n687"><circle cx="369" cy="1038" r="9.9"/></g>
<g id="n688"><circle cx="409" cy="1038" r="9.9"/></g>
<g id="n689"><circle cx="451" cy="1045" r="9.9"/></g>
<g id="n690"><circle cx="493" cy="1056" r="9.9"/></g>
<g id="n691"><circle cx="534" cy="1056" r="9.9"/></g>
<g id="n692"><circle cx="576" cy="1056" r="9.9"/></g>
<g id="n693"><circle cx="651" cy="1041" r="9.9"/></g>
<g id="n694"><circle cx="692" cy="1045" r="9.9"/></g>
<g id="n695"><circle cx="734" cy="1045" r="9.9"/></g>
<g id="n696"><circle cx="259" cy="1082" r="9.9"/></g>
<g id="n697"><circle cx="334" cy="1071" r="9.9"/></g>
<g id="n698"><circle cx="376" cy="1071" r="9.9"/></g>
<g id="n699"><circle cx="417" cy="1079" r="9.9"/></g>
<g id="n700"><circle cx="459" cy="1090" r="9.9"/></g>
<g id="n701"><circle cx="501" cy="1090" r="9.9"/></g>
<g id="n702"><circle cx="542" cy="1090" r="9.9"/></g>
<g id="n703"><circle cx="617" cy="1075" r="9.9"/></g>
<g id="n704"><circle cx="659" cy="1079" r="9.9"/></g>
<g id="n705"><circle cx="700" cy="1079" r="9.9"/></g>
<g id="n706"><circle cx="742" cy="1079" r="9.9"/></g>
<g id="n707"><circle cx="301" cy="1105" r="9.9"/></g>
<g id="n708"><circle cx="342" cy="1105" r="9.9"/></g>
<g id="n709"><circle cx="384" cy="1113" r="9.9"/></g>
<g id="n710"><circle cx="425" cy="1124" r="9.9"/></g>
<g id="n711"><circle cx="467" cy="1124" r="9.9"/></g>
<g id="n712"><circle cx="508" cy="1124" r="9.9"/></g>
<g id="n713"><circle cx="584" cy="1109" r="9.9"/></g>
<g id="n714"><circle cx="625" cy="1113" r="9.9"/></g>
<g id="n715"><circle cx="666" cy="1113" r="9.9"/></g>
<g id="n716"><circle cx="708" cy="1113" r="9.9"/></g>
<g id="n717"><circle cx="749" cy="1113" r="9.9"/></g>
<g id="n718"><circle cx="267" cy="1139" r="9.9"/></g>
<g id="n719"><circle cx="308" cy="1139" r="9.9"/></g>
<g id="n720"><circle cx="349" cy="1147" r="9.9"/></g>
<g id="n721"><circle cx="391" cy="1158" r="9.9"/></g>
<g id="n722"><circle cx="433" cy="1158" r="9.9"/></g>
<g id="n723"><circle cx="474" cy="1158" r="9.9"/></g>
<g id="n724"><circle cx="549" cy="1143" r="9.9"/></g>
<g id="n725"><circle cx="591" cy="1147" r="9.9"/></g>
<g id="n726"><circle cx="632" cy="1147" r="9.9"/></g>
<g id="n727"><circle cx="674" cy="1147" r="9.9"/></g>
<g id="n728"><circle cx="716" cy="1147" r="9.9"/></g>
<g id="n729"><circle cx="757" cy="1147" r="9.9"/></g>
<g id="n730"><circle cx="274" cy="1172" r="9.9"/></g>
<g id="n731"><circle cx="316" cy="1180" r="9.9"/></g>
<g id="n732"><circle cx="357" cy="1191" r="9.9"/></g>
<g id="n733"><circle cx="399" cy="1191" r="9.9"/></g>
<g id="n734"><circle cx="440" cy="1191" r="9.9"/></g>
<g id="n735"><circle cx="515" cy="1176" r="9.9"/></g>
<g id="n736"><circle cx="557" cy="1180" r="9.9"/></g>
<g id="n737"><circle cx="598" cy="1180" r="9.9"/></g>
<g id="n738"><circle cx="640" cy="1180" r="9.9"/></g>
<g id="n739"><circle cx="682" cy="1180" r="9.9"/></g>
<g id="n740"><circle cx="723" cy="1180" r="9.9"/></g>
<g id="n741"><circle cx="282" cy="1214" r="9.9"/></g>
<g id="n742"><circle cx="323" cy="1225" r="9.9"/></g>
<g id="n743"><circle cx="365" cy="1225" r="9.9"/></g>
<g id="n744"><circle cx="406" cy="1225" r="9.9"/></g>
<g id="n745"><circle cx="482" cy="1210" r="9.9"/></g>
<g id="n746"><circle cx="523" cy="1214" r="9.9"/></g>
<g id="n747"><circle cx="565" cy="1214" r="9.9"/></g>
<g id="n748"><circle cx="606" cy="1214" r="9.9"/></g>
<g id="n749"><circle cx="647" cy="1214" r="9.9"/></g>
<g id="n750"><circle cx="689" cy="1214" r="9.9"/></g>
<g id="n751"><circle cx="730" cy="1214" r="9.9"/></g>
<g id="n752"><circle cx="290" cy="1259" r="9.9"/></g>
<g id="n753"><circle cx="330" cy="1259" r="9.9"/></g>
<g id="n754"><circle cx="372" cy="1259" r="9.9"/></g>
<g id="n755"><circle cx="448" cy="1244" r="9.9"/></g>
<g id="n756"><circle cx="489" cy="1248" r="9.9"/></g>
<g id="n757"><circle cx="530" cy="1248" r="9.9"/></g>
<g id="n758"><circle cx="572" cy="1248" r="9.9"/></g>
<g id="n759"><circle cx="614" cy="1248" r="9.9"/></g>
<g id="n760"><circle cx="655" cy="1248" r="9.9"/></g>
<g id="n761"><circle cx="696" cy="1248" r="9.9"/></g>
<g id="n762"><circle cx="738" cy="1248" r="9.9"/></g>
<g id="n763"><circle cx="255" cy="1292" r="9.9"/></g>
<g id="n764"><circle cx="296" cy="1292" r="9.9"/></g>
<g id="n765"><circle cx="338" cy="1292" r="9.9"/></g>
<g id="n766"><circle cx="413" cy="1277" r="9.9"/></g>
<g id="n767"><circle cx="455" cy="1281" r="9.9"/></g>
<g id="n768"><circle cx="497" cy="1281" r="9.9"/></g>
<g id="n769"><circle cx="538" cy="1281" r="9.9"/></g>
<g id="n770"><circle cx="580" cy="1281" r="9.9"/></g>
<g id="n771"><circle cx="621" cy="1281" r="9.9"/></g>
<g id="n772"><circle cx="663" cy="1281" r="9.9"/></g>
<g id="n773"><circle cx="704" cy="1281" r="9.9"/></g>
<g id="n774"><circle cx="745" cy="1281" r="9.9"/></g>
<g id="n775"><circle cx="263" cy="1326" r="9.9"/></g>
<g id="n776"><circle cx="304" cy="1326" r="9.9"/></g>
<g id="n777"><circle cx="380" cy="1311" r="9.9"/></g>
<g id="n778"><circle cx="421" cy="1315" r="9.9"/></g>
<g id="n779"><circle cx="463" cy="1315" r="9.9"/></g>
<g id="n780"><circle cx="505" cy="1315" r="9.9"/></g>
<g id="n781"><circle cx="546" cy="1315" r="9.9"/></g>
<g id="n782"><circle cx="587" cy="1315" r="9.9"/></g>
<g id="n783"><circle cx="628" cy="1315" r="9.9"/></g>
<g id="n784"><circle cx="670" cy="1315" r="9.9"/></g>
<g id="n785"><circle cx="712" cy="1315" r="9.9"/></g>
<g id="n786"><circle cx="753" cy="1315" r="9.9"/></g>
</g>
</g>
</svg>
